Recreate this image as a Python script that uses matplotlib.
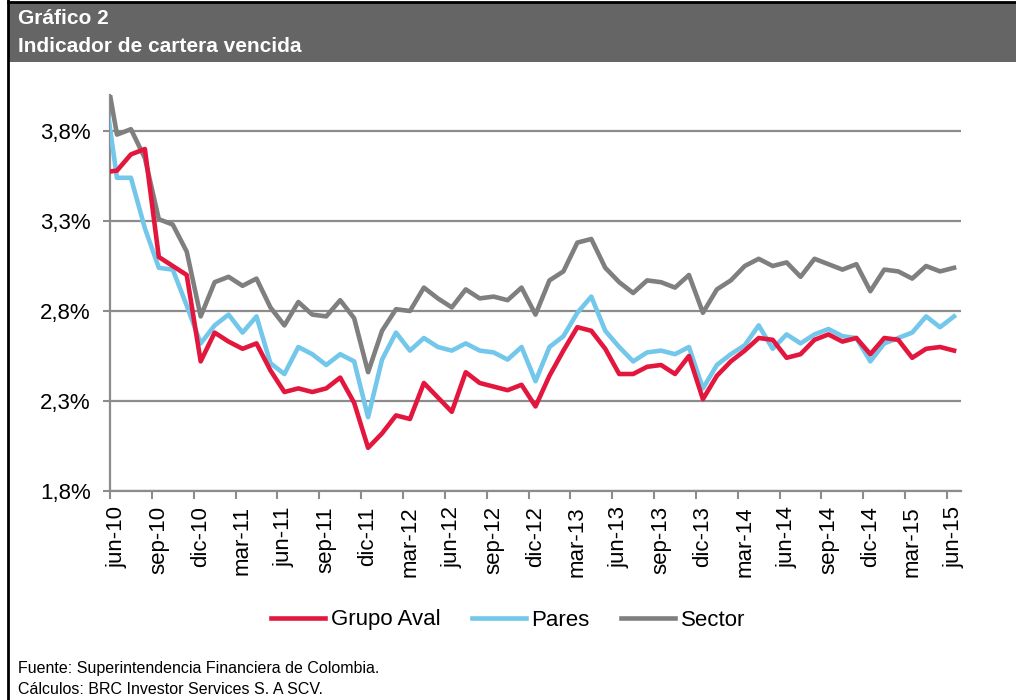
# -*- coding: utf-8 -*-
import matplotlib
matplotlib.use("Agg")
import matplotlib.pyplot as plt
from matplotlib.lines import Line2D
from matplotlib.patches import Rectangle

plt.rcParams['font.family'] = ['Liberation Sans', 'DejaVu Sans']

# Meses (may-10 a jun-15); etiquetas cada trimestre
meses = ['may-10',
         'jun-10', 'jul-10', 'ago-10', 'sep-10', 'oct-10', 'nov-10', 'dic-10',
         'ene-11', 'feb-11', 'mar-11', 'abr-11', 'may-11', 'jun-11', 'jul-11',
         'ago-11', 'sep-11', 'oct-11', 'nov-11', 'dic-11',
         'ene-12', 'feb-12', 'mar-12', 'abr-12', 'may-12', 'jun-12', 'jul-12',
         'ago-12', 'sep-12', 'oct-12', 'nov-12', 'dic-12',
         'ene-13', 'feb-13', 'mar-13', 'abr-13', 'may-13', 'jun-13', 'jul-13',
         'ago-13', 'sep-13', 'oct-13', 'nov-13', 'dic-13',
         'ene-14', 'feb-14', 'mar-14', 'abr-14', 'may-14', 'jun-14', 'jul-14',
         'ago-14', 'sep-14', 'oct-14', 'nov-14', 'dic-14',
         'ene-15', 'feb-15', 'mar-15', 'abr-15', 'may-15', 'jun-15']

# Indicador de cartera vencida (%)
grupo_aval = [3.57,
              3.58, 3.67, 3.70, 3.10, 3.05, 3.00, 2.52, 2.68, 2.63, 2.59, 2.62, 2.47,
              2.35, 2.37, 2.35, 2.37, 2.43, 2.29, 2.04, 2.12, 2.22, 2.20, 2.40, 2.32,
              2.24, 2.46, 2.40, 2.38, 2.36, 2.39, 2.27, 2.44, 2.58, 2.71, 2.69, 2.59,
              2.45, 2.45, 2.49, 2.50, 2.45, 2.55, 2.31, 2.44, 2.52, 2.58, 2.65, 2.64,
              2.54, 2.56, 2.64, 2.67, 2.63, 2.65, 2.56, 2.65, 2.64, 2.54, 2.59, 2.60, 2.58]
pares = [4.09,
         3.54, 3.54, 3.26, 3.04, 3.03, 2.83, 2.62, 2.72, 2.78, 2.68, 2.77, 2.51,
         2.45, 2.60, 2.56, 2.50, 2.56, 2.52, 2.21, 2.53, 2.68, 2.58, 2.65, 2.60,
         2.58, 2.62, 2.58, 2.57, 2.53, 2.60, 2.41, 2.60, 2.66, 2.79, 2.88, 2.69,
         2.60, 2.52, 2.57, 2.58, 2.56, 2.60, 2.37, 2.50, 2.56, 2.61, 2.72, 2.59,
         2.67, 2.62, 2.67, 2.70, 2.66, 2.65, 2.52, 2.62, 2.65, 2.68, 2.77, 2.71, 2.77]
sector = [4.22,
          3.78, 3.81, 3.65, 3.31, 3.28, 3.13, 2.77, 2.96, 2.99, 2.94, 2.98, 2.82,
          2.72, 2.85, 2.78, 2.77, 2.86, 2.76, 2.46, 2.69, 2.81, 2.80, 2.93, 2.87,
          2.82, 2.92, 2.87, 2.88, 2.86, 2.93, 2.78, 2.97, 3.02, 3.18, 3.20, 3.04,
          2.96, 2.90, 2.97, 2.96, 2.93, 3.00, 2.79, 2.92, 2.97, 3.05, 3.09, 3.05,
          3.07, 2.99, 3.09, 3.06, 3.03, 3.06, 2.91, 3.03, 3.02, 2.98, 3.05, 3.02, 3.04]

y_ticks = [1.8, 2.3, 2.8, 3.3, 3.8]
y_labels = ['1,8%', '2,3%', '2,8%', '3,3%', '3,8%']

rojo = '#E3173E'
azul = '#72C7EA'
gris = '#7F7F7F'
gris_eje = '#8C8C8C'

fig = plt.figure(figsize=(10.16, 7.0), dpi=100)

# Encabezado gris con el título y el marco
fig.patches.append(Rectangle((8 / 1016, 1 - 62 / 700), 1 - 8 / 1016, 60 / 700,
                             transform=fig.transFigure, facecolor='#656565',
                             edgecolor='none', zorder=0))
fig.add_artist(Line2D([8 / 1016, 8 / 1016], [0, 1], color='black', lw=2))
fig.add_artist(Line2D([8 / 1016, 1], [1 - 1.5 / 700, 1 - 1.5 / 700], color='black', lw=2))
fig.text(18 / 1016, 1 - 18 / 700, u'Gráfico 2', color='white', fontsize=15,
         fontweight='bold', va='center', ha='left')
fig.text(18 / 1016, 1 - 47 / 700, 'Indicador de cartera vencida', color='white',
         fontsize=15, fontweight='bold', va='center', ha='left')

ax = fig.add_axes([110 / 1016, 1 - 491 / 700, 851 / 1016, 396 / 700])
x = list(range(len(meses)))
ax.plot(x, sector, color=gris, lw=3.3, label='Sector', zorder=3)
ax.plot(x, pares, color=azul, lw=3.3, label='Pares', zorder=3)
ax.plot(x, grupo_aval, color=rojo, lw=3.3, label='Grupo Aval', zorder=4)

ax.set_xlim(0.5, len(meses) - 0.5)
ax.set_ylim(1.8, 4.0)

ax.set_yticks(y_ticks)
ax.set_yticklabels(y_labels, fontsize=16)
ax.tick_params(axis='y', length=5, width=1.5, color=gris_eje, pad=9)

# etiquetas trimestrales en el centro de cada mes, marcas entre meses
ax.set_xticks(x[1::3])
ax.set_xticklabels(meses[1::3], rotation=90, fontsize=16)
ax.set_xticks([i + 0.5 for i in x[0::3]], minor=True)
ax.tick_params(axis='x', which='major', length=0, pad=11)
ax.tick_params(axis='x', which='minor', length=6, width=1.5, color=gris_eje)

ax.grid(axis='y', color=gris_eje, lw=1.6)
ax.set_axisbelow(True)
for s in ['top', 'right']:
    ax.spines[s].set_visible(False)
for s in ['left', 'bottom']:
    ax.spines[s].set_color(gris_eje)
    ax.spines[s].set_linewidth(1.6)

h, l = ax.get_legend_handles_labels()
orden = [2, 1, 0]
fig.legend([h[i] for i in orden], [l[i] for i in orden], loc='center',
           bbox_to_anchor=(508 / 1016, 1 - 620 / 700), ncol=3, frameon=False,
           fontsize=16, handlelength=2.45, handletextpad=0.25, columnspacing=1.4)

fig.text(18 / 1016, 1 - 668 / 700, 'Fuente: Superintendencia Financiera de Colombia.',
         fontsize=11.5, va='center', ha='left')
fig.text(18 / 1016, 1 - 690 / 700, u'Cálculos: BRC Investor Services S. A SCV.',
         fontsize=11.5, va='center', ha='left')

fig.savefig('out.png', dpi=100)
